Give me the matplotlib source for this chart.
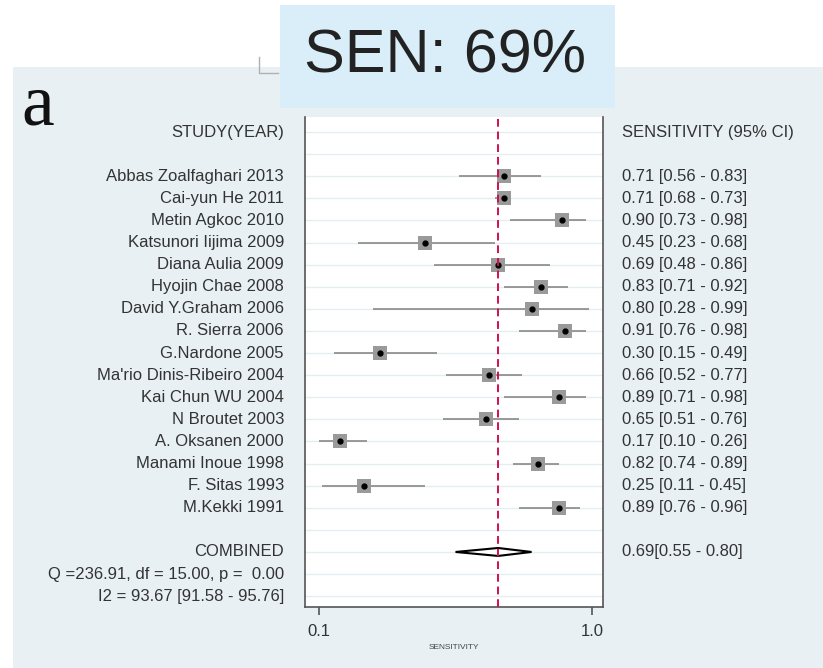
import numpy as np
import matplotlib.pyplot as plt
from matplotlib.patches import Rectangle, Polygon
from matplotlib.lines import Line2D

plt.rcParams['font.family'] = ['Liberation Sans', 'DejaVu Sans']

# dados
estudos = ['Abbas Zoalfaghari 2013', 'Cai-yun He 2011', 'Metin Agkoc 2010',
           'Katsunori Iijima 2009', 'Diana Aulia 2009', 'Hyojin Chae 2008',
           'David Y.Graham 2006', 'R. Sierra 2006', 'G.Nardone 2005',
           "Ma'rio Dinis-Ribeiro 2004", 'Kai Chun WU 2004', 'N Broutet 2003',
           'A. Oksanen 2000', 'Manami Inoue 1998', 'F. Sitas 1993', 'M.Kekki 1991']
sens = [0.71, 0.71, 0.90, 0.45, 0.69, 0.83, 0.80, 0.91, 0.30, 0.66, 0.89, 0.65,
        0.17, 0.82, 0.25, 0.89]
ic_inf = [0.56, 0.68, 0.73, 0.23, 0.48, 0.71, 0.28, 0.76, 0.15, 0.52, 0.71, 0.51,
          0.10, 0.74, 0.11, 0.76]
ic_sup = [0.83, 0.73, 0.98, 0.68, 0.86, 0.92, 0.99, 0.98, 0.49, 0.77, 0.98, 0.76,
          0.26, 0.89, 0.45, 0.96]
comb = 0.69
comb_inf = 0.55
comb_sup = 0.80
ticks = [0.1, 1.0]
tick_labels = ['0.1', '1.0']

W, H = 823, 668
fig = plt.figure(figsize=(W / 100, H / 100), dpi=100)
fig.patch.set_facecolor('white')

# painel de fundo e caixa do título
fig.patches.append(Rectangle((13 / W, 0), 1 - 13 / W, 1 - 67 / H, transform=fig.transFigure,
                             facecolor='#e8f0f4', edgecolor='none', zorder=-10))
fig.lines.append(Line2D([259 / W, 259 / W, 278 / W], [1 - 57 / H, 1 - 73 / H, 1 - 73 / H],
                        transform=fig.transFigure, color='#b0b0b0', lw=1, zorder=-9))
fig.patches.append(Rectangle((280 / W, 1 - 108 / H), 335 / W, 103 / H, transform=fig.transFigure,
                             facecolor='#d9eef9', edgecolor='none', zorder=-8))
fig.text(445 / W, 1 - 57 / H, 'SEN: 69%', fontsize=44, ha='center', va='center', color='#222222')
fig.text(21 / W, 1 - 107 / H, 'a', fontsize=53, family='Liberation Serif', ha='left', va='center',
         color='#111111')

ax = fig.add_axes([305 / W, 1 - 607 / H, 298 / W, 490 / H])
ax.set_facecolor('white')
ax.set_xlim(0.0549, 1.035)
ax.set_ylim(21.49, -0.68)

# linhas de grade horizontais
for r in range(22):
    ax.axhline(r, color='#e2eef0', lw=1, zorder=1)

linhas = np.arange(len(estudos)) + 2
ax.hlines(linhas, ic_inf, ic_sup, color='#808080', lw=1.1, zorder=3)
ax.plot(sens, linhas, 's', color='#9a9a9a', markersize=9.5, markeredgewidth=0, zorder=4)
ax.plot(sens, linhas, 'o', color='black', markersize=3.5, zorder=5)

# diamante combinado
rc = 19
ax.add_patch(Polygon([(comb_inf, rc), (comb, rc - 0.18), (comb_sup, rc), (comb, rc + 0.18)],
                     closed=True, facecolor='white', edgecolor='black', lw=1.5, zorder=4))
ax.axvline(comb, color='#d0104c', lw=1.4, ls=(0, (4, 2.5)), zorder=6)

for s in ['top']:
    ax.spines[s].set_visible(False)
for s in ['left', 'right', 'bottom']:
    ax.spines[s].set_color('#555555')
    ax.spines[s].set_linewidth(1.2)
ax.set_yticks([])
ax.set_xticks(ticks)
ax.set_xticklabels(tick_labels, fontsize=12, color='#333333')
ax.tick_params(axis='x', direction='out', length=6, width=1.2, color='#555555', pad=6)
ax.set_xlabel('SENSITIVITY', fontsize=6, color='#444444', labelpad=4)

tr = ax.get_yaxis_transform()
xl = (284 - 305) / 298
xr = (622 - 305) / 298
txt = dict(fontsize=12, color='#333333', va='center', transform=tr, clip_on=False)
ax.text(xl, 0, 'STUDY(YEAR)', ha='right', **txt)
ax.text(xr, 0, 'SENSITIVITY (95% CI)', ha='left', **txt)
for r, nome, v, a, b in zip(linhas, estudos, sens, ic_inf, ic_sup):
    ax.text(xl, r, nome, ha='right', **txt)
    ax.text(xr, r, '%.2f [%.2f - %.2f]' % (v, a, b), ha='left', **txt)
ax.text(xl, 19, 'COMBINED', ha='right', **txt)
ax.text(xl, 20, 'Q =236.91, df = 15.00, p =  0.00', ha='right', **txt)
ax.text(xl, 21, 'I2 = 93.67 [91.58 - 95.76]', ha='right', **txt)
ax.text(xr, 19, '%.2f[%.2f - %.2f]' % (comb, comb_inf, comb_sup), ha='left', **txt)

fig.savefig('out.png', dpi=100)
